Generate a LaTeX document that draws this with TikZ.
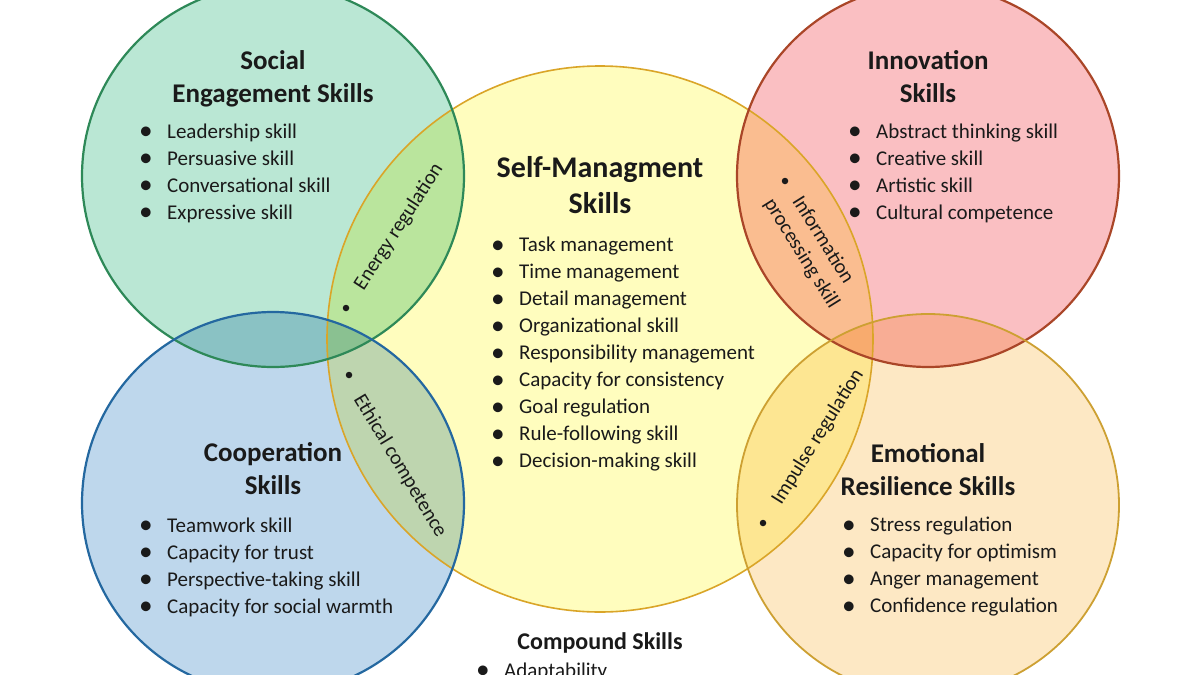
\documentclass[tikz,border=0pt]{standalone}
\usepackage{fontspec}
\setmainfont{Carlito}
\definecolor{socfill}{RGB}{186,231,212}
\definecolor{socline}{RGB}{46,137,88}
\definecolor{coopfill}{RGB}{190,215,236}
\definecolor{coopline}{RGB}{36,104,160}
\definecolor{selffill}{RGB}{255,253,190}
\definecolor{selfline}{RGB}{218,165,40}
\definecolor{innofill}{RGB}{250,191,194}
\definecolor{innoline}{RGB}{170,70,40}
\definecolor{emofill}{RGB}{253,232,196}
\definecolor{emoline}{RGB}{205,160,50}
\definecolor{inkc}{RGB}{26,26,26}
\newcommand{\skillitem}[1]{\makebox[28pt][l]{\raisebox{-1.6pt}{\scalebox{1.3}{\textbullet}}}#1}

\begin{document}
\begin{tikzpicture}[x=1pt, y=-1pt,
	every node/.style={text=inkc, inner sep=0pt},
	ttl/.style={font=\fontsize{27}{33}\selectfont\bfseries, align=center},
	lst/.style={font=\fontsize{21}{27}\selectfont, align=left, anchor=west},
	lens/.style={font=\fontsize{20.5}{25}\selectfont, align=center},
	pip/.style={circle, fill=inkc, minimum size=6.5pt}]
	\useasboundingbox (0,0) rectangle (1200,675);
	\clip (0,0) rectangle (1200,675);
	\fill[white] (0,0) rectangle (1200,675);
	\begin{scope}[blend mode=multiply]
		\fill[selffill] (600,339) circle[radius=273];
		\fill[socfill] (273,176) circle[radius=191];
		\fill[coopfill] (273,503) circle[radius=191];
		\fill[innofill] (928,176) circle[radius=191];
		\fill[emofill] (928,505) circle[radius=191];
	\end{scope}
	\draw[selfline, line width=1.6pt] (600,339) circle[radius=273];
	\draw[socline, line width=2.2pt] (273,176) circle[radius=191];
	\draw[coopline, line width=2.2pt] (273,503) circle[radius=191];
	\draw[innoline, line width=2.2pt] (928,176) circle[radius=191];
	\draw[emoline, line width=1.8pt] (928,505) circle[radius=191];

	\node[ttl] (socttl) at (273,79) {Social\\Engagement Skills};
	\node[lst] (soclst) at (139,173) {\skillitem{Leadership skill}\\\skillitem{Persuasive skill}\\\skillitem{Conversational skill}\\\skillitem{Expressive skill}};

	\node[ttl] (coopttl) at (273,469) {Cooperation\\Skills};
	\node[lst] (cooplst) at (139,567) {\skillitem{Teamwork skill}\\\skillitem{Capacity for trust}\\\skillitem{Perspective-taking skill}\\\skillitem{Capacity for social warmth}};

	\node[ttl, font=\fontsize{30}{36}\selectfont\bfseries] (selfttl) at (600,185) {Self-Managment\\Skills};
	\node[lst] (selflst) at (491,354) {\skillitem{Task management}\\\skillitem{Time management}\\\skillitem{Detail management}\\\skillitem{Organizational skill}\\\skillitem{Responsibility management}\\\skillitem{Capacity for consistency}\\\skillitem{Goal regulation}\\\skillitem{Rule-following skill}\\\skillitem{Decision-making skill}};

	\node[ttl] (innottl) at (928,77) {Innovation\\Skills};
	\node[lst] (innolst) at (848,173) {\skillitem{Abstract thinking skill}\\\skillitem{Creative skill}\\\skillitem{Artistic skill}\\\skillitem{Cultural competence}};

	\node[ttl] (emottl) at (928,470) {Emotional\\Resilience Skills};
	\node[lst] (emolst) at (842,567) {\skillitem{Stress regulation}\\\skillitem{Capacity for optimism}\\\skillitem{Anger management}\\\skillitem{Confidence regulation}};

	\node[ttl, font=\fontsize{24}{29}\selectfont\bfseries] (compttl) at (600,643) {Compound Skills};
	\node[lst, anchor=base west] (complst) at (476,677) {\skillitem{Adaptability}};

	\node[pip] (energypip) at (346,308) {};
	\node[lens, rotate=57] (energy) at (399,227) {Energy regulation};
	\node[pip] (ethicpip) at (349,375) {};
	\node[lens, rotate=-59] (ethic) at (400,466) {Ethical competence};
	\node[pip] (infopip) at (785,181) {};
	\node[lens, rotate=-58] (info) at (812,247) {Information\\processing skill};
	\node[pip] (impulsepip) at (763,523) {};
	\node[lens, rotate=58] (impulse) at (818,437) {Impulse regulation};
\end{tikzpicture}
\end{document}
